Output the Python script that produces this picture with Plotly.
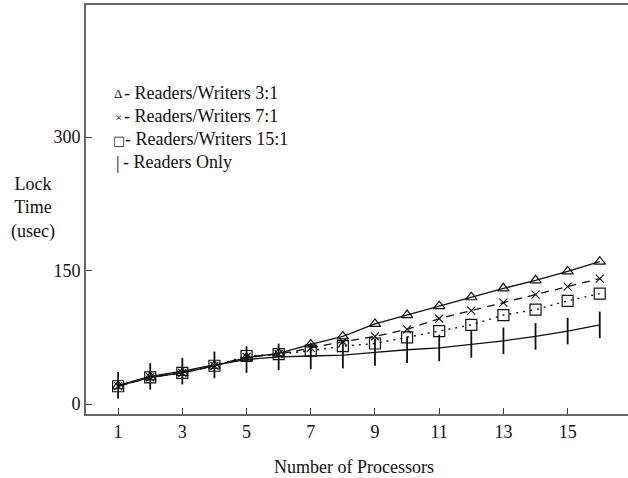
import plotly.graph_objects as go

processors = list(range(1, 17))
rw_3_1 = [20, 30, 35, 43, 52, 57, 67, 76, 90, 100, 110, 120, 130, 139, 149, 160]
rw_7_1 = [20, 30, 35, 43, 53, 56, 63, 70, 76, 84, 96, 105, 114, 123, 132, 141]
rw_15_1 = [20, 30, 35, 43, 54, 56, 60, 65, 68, 75, 82, 89, 100, 106, 116, 124]
readers_only = [21, 31, 37, 44, 50, 53, 54, 55, 58, 61, 63, 67, 71, 76, 82, 89]

legend_labels = ["Readers/Writers 3:1", "Readers/Writers 7:1",
                 "Readers/Writers 15:1", "Readers Only"]
legend_glyphs = ["\u0394", "\u00d7", "\u25a1", "|"]
x_ticks = [1, 3, 5, 7, 9, 11, 13, 15]
y_ticks = [0, 150, 300]

FONT = "Liberation Serif"
FS = 18

fig = go.Figure()
fig.add_trace(go.Scatter(x=processors, y=readers_only, mode="lines+markers",
                         line=dict(color="#111", width=1.3),
                         marker=dict(symbol="line-ns", size=19,
                                     line=dict(color="#111", width=1.8))))
fig.add_trace(go.Scatter(x=processors, y=rw_15_1, mode="lines+markers",
                         line=dict(color="#111", width=1.4, dash="2px,5px"),
                         marker=dict(symbol="square-open", size=11, color="#111",
                                     line=dict(width=1.2))))
fig.add_trace(go.Scatter(x=processors, y=rw_7_1, mode="lines+markers",
                         line=dict(color="#111", width=1.3, dash="8px,6px"),
                         marker=dict(symbol="x-thin-open", size=8, color="#111",
                                     line=dict(color="#111", width=1.1))))
fig.add_trace(go.Scatter(x=processors, y=rw_3_1, mode="lines+markers",
                         line=dict(color="#111", width=1.3),
                         marker=dict(symbol="triangle-up-open", size=10, color="#111",
                                     line=dict(width=1.2))))

W, H = 628, 478
ml, mr, mt, mb = 86, 0, 5, 64
pw, ph = W - ml - mr, H - mt - mb

def px_x(p):
    return (p - ml) / pw

def px_y(p):
    return (H - mb - p) / ph

rows_y = [93, 116, 139, 162]
glyph_size = {"\u0394": 13, "\u00d7": 13, "\u25a1": 13, "|": 18}
glyph_font = {"\u0394": FONT, "\u00d7": FONT, "\u25a1": "DejaVu Sans", "|": FONT}
glyph_x = {"\u0394": 118, "\u00d7": 118, "\u25a1": 119, "|": 118}
text_x = {"\u0394": 122, "\u00d7": 122, "\u25a1": 123, "|": 121}
for g, lab, yy in zip(legend_glyphs, legend_labels, rows_y):
    fig.add_annotation(xref="paper", yref="paper", x=px_x(glyph_x[g]), y=px_y(yy + 1),
                       xanchor="center", yanchor="middle", showarrow=False,
                       text=g, font=dict(family=glyph_font[g], size=glyph_size[g], color="#111"))
    fig.add_annotation(xref="paper", yref="paper", x=px_x(text_x[g]), y=px_y(yy),
                       xanchor="left", yanchor="middle", showarrow=False,
                       text="- " + lab,
                       font=dict(family=FONT, size=FS, color="#111"))

fig.add_annotation(xref="paper", yref="paper", x=px_x(33), y=px_y(208),
                   xanchor="center", yanchor="middle", showarrow=False,
                   text="Lock<br>Time<br>(usec)", align="center",
                   font=dict(family=FONT, size=FS, color="#111"))
fig.add_annotation(xref="paper", yref="paper", x=px_x(354), y=px_y(467),
                   xanchor="center", yanchor="middle", showarrow=False,
                   text="Number of Processors",
                   font=dict(family=FONT, size=FS, color="#111"))

fig.update_layout(
    width=W, height=H, margin=dict(l=ml, r=mr, t=mt, b=mb),
    paper_bgcolor="white", plot_bgcolor="white", showlegend=False,
    font=dict(family=FONT, size=FS, color="#111"),
)
fig.update_xaxes(range=[0, 16.88], tickvals=x_ticks, ticks="inside", ticklen=6,
                 tickcolor="#444", showgrid=False, zeroline=False, showline=True,
                 linecolor="#666", linewidth=2, mirror=True,
                 tickfont=dict(family=FONT, size=FS, color="#111"))
fig.update_yaxes(range=[-11.2, 448.4], tickvals=y_ticks, ticks="inside", ticklen=6,
                 tickcolor="#444", showgrid=False, zeroline=False, showline=True,
                 linecolor="#666", linewidth=2,
                 tickfont=dict(family=FONT, size=FS, color="#111"))

fig.write_html("out.html", config={"displayModeBar": False},
               post_script="document.body.style.margin='0';document.body.style.overflow='hidden';")
